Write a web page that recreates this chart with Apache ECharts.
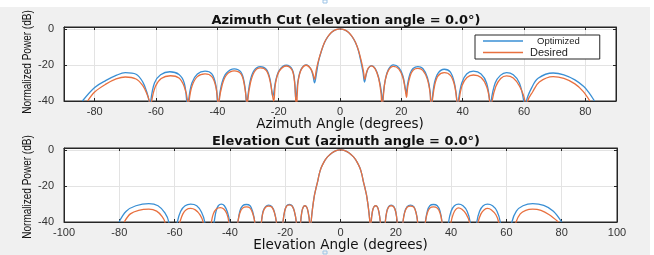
<!DOCTYPE html>
<html>
<head>
<meta charset="utf-8">
<script src="https://cdn.jsdelivr.net/npm/echarts@6/dist/echarts.min.js"></script>
<style>
  html, body { margin: 0; padding: 0; background: #fff; }
  #main {
    width: 654px; height: 255px;
    background: linear-gradient(to bottom, #fff 7px, transparent 7px),
                linear-gradient(to right, #f0f0f0 650px, #fff 650px);
  }
</style>
</head>
<body>
<div id="main"></div>
<script>
// azimuth cut, [angle (deg), power (dB)]
var azOptimized = [
    [-84,-40],[-80,-32.5],[-76.3,-28.6],[-73,-25.8],[-70,-24.3],[-66.5,-25.2],[-64.3,-29.5],[-63,-35],[-62.3,-40],[-62,-50],
    [-61.7,-40],[-60.5,-30],[-58.5,-25.5],[-55.5,-23.8],[-52.5,-25.3],[-50.8,-30],[-50,-40],[-49.8,-50],
    [-49.4,-40],[-48.3,-30],[-46.5,-25],[-44,-23.5],[-41.8,-25],[-40.5,-31],[-40,-40],[-39.8,-50],
    [-39.5,-40],[-38.5,-30],[-37,-24.5],[-34.5,-22.2],[-32.3,-24],[-31.2,-30],[-30.6,-40],[-30.5,-50],
    [-30.2,-40],[-29.3,-29],[-28,-23],[-26,-20.9],[-24,-22.5],[-22.8,-28],[-21.9,-37.5],
    [-21,-29],[-19.8,-23],[-17.5,-20.2],[-15.6,-22.5],[-14.8,-29],[-14.4,-39.5],
    [-13.7,-29],[-12.7,-22.5],[-11,-20],[-9.6,-22],[-8.8,-26],[-8.3,-30],
    [-7.6,-24],[-7,-18],[-6,-12],[-5,-7.5],[-4,-4.5],[-3,-2.4],[-2,-1],[-1,-0.25],[0,0],
    [1,-0.25],[2,-1],[3,-2.4],[4,-4.5],[5,-7.5],[6,-12],[6.8,-18],[7.5,-24],[8,-29.5],
    [8.6,-25],[9.2,-22],[10.2,-20.4],[11.5,-22],[12.6,-27],[13.5,-35],[13.8,-42],
    [14.2,-35],[14.8,-28],[15.8,-22.5],[17.4,-20],[19.2,-21.5],[20.5,-26],[21.3,-33],[21.6,-36],
    [22,-31],[22.8,-25],[23.8,-22],[25.4,-20.9],[27,-22],[28.5,-27],[29.4,-35],[29.7,-45],
    [30,-40],[30.8,-30],[32,-24.5],[34,-22.4],[36,-24],[37.3,-30],[38.1,-40],[38.3,-50],
    [38.6,-40],[39.7,-30],[41.3,-25],[43.5,-23.5],[46,-25],[47.8,-30],[48.8,-40],[49,-50],
    [49.3,-40],[50.6,-30],[52.3,-25.8],[54.3,-24.3],[56.5,-25.5],[58.5,-30],[59.9,-40],[60.3,-50],
    [60.8,-40],[62.4,-33],[64.6,-27.4],[69.5,-24.5],[73,-25.5],[76.6,-28.3],[79.5,-32],[81,-35],[83,-40]
];
var azDesired = [
    [-82.3,-40],[-80,-35],[-76.5,-30.8],[-73,-27.8],[-70,-26.7],[-66.5,-27.8],[-64.3,-31.5],[-63,-36],[-62.2,-40],[-62,-50],
    [-61.4,-40],[-60.2,-32],[-58.3,-27.5],[-55.3,-26],[-52.5,-27.3],[-50.8,-32],[-49.7,-40],[-49.5,-50],
    [-49.2,-40],[-48.2,-31.5],[-46.5,-26.5],[-44,-25],[-41.8,-26.5],[-40.5,-32],[-39.9,-40],[-39.7,-50],
    [-39.4,-40],[-38.4,-31],[-37,-25.5],[-34.5,-23.3],[-32.3,-25],[-31.2,-31],[-30.5,-40],[-30.3,-50],
    [-30.1,-40],[-29.2,-30],[-27.9,-23.8],[-26,-21.7],[-24,-23.2],[-22.8,-29],[-21.8,-39],[-21.6,-40],
    [-21,-30],[-19.8,-23.5],[-17.5,-20.6],[-15.6,-23],[-14.8,-30],[-14.4,-40],[-14.2,-45],
    [-13.9,-35],[-13.6,-28.5],[-12.6,-22.5],[-11,-20.2],[-9.6,-22],[-8.8,-25],[-8.3,-28],
    [-7.7,-22.5],[-7,-17.5],[-6,-11.8],[-5,-7.3],[-4,-4.4],[-3,-2.3],[-2,-1],[-1,-0.25],[0,0],
    [1,-0.25],[2,-1],[3,-2.3],[4,-4.4],[5,-7.3],[6,-11.8],[6.9,-17.5],[7.6,-23],[8.1,-28],
    [8.6,-24.5],[9.2,-21.8],[10.2,-20.5],[11.5,-22.3],[12.6,-27.5],[13.4,-36],[13.7,-45],
    [14.1,-38],[14.7,-29],[15.8,-23],[17.4,-20.8],[19.2,-22.3],[20.5,-27],[21.3,-34],[21.7,-38],
    [22.1,-32],[22.9,-26],[23.9,-22.8],[25.4,-21.9],[27,-23],[28.5,-28],[29.4,-36],[29.7,-45],
    [30.1,-40],[30.9,-31],[32,-26],[34,-24.3],[36,-25.8],[37.3,-31],[38.1,-40],[38.3,-50],
    [38.8,-40],[39.8,-31.5],[41.4,-27],[43.5,-25.6],[46,-27],[47.8,-32],[48.8,-40],[49.1,-50],
    [49.6,-40],[50.8,-32],[52.4,-27.5],[54.3,-26.1],[56.5,-27.3],[58.6,-32],[60.3,-40],[60.6,-50],
    [61.2,-40],[62.8,-35],[65,-29.5],[69.5,-26.5],[73,-27.5],[76.6,-30.5],[79.2,-34.5],[81.5,-40]
];

// elevation cut
var elOptimized = [
    [-80.1,-40],[-77.5,-34],[-74,-31],[-69.3,-29.8],[-66,-31],[-63.5,-35],[-62.1,-40],[-61,-60],
    [-59,-40],[-57.8,-34],[-56.2,-31],[-54.2,-30.1],[-52,-31],[-50.3,-34.5],[-49.1,-40],[-48,-60],
    [-45.7,-40],[-45,-34],[-44.2,-31],[-43.1,-30.1],[-42,-31],[-40.9,-34.5],[-40.1,-40],[-38.6,-60],
    [-37.1,-40],[-36.4,-34],[-35.4,-31],[-34,-30.3],[-32.7,-31],[-31.8,-34],[-31,-40],[-29.8,-60],
    [-28.6,-40],[-28,-34],[-27.1,-31.5],[-26,-30.7],[-24.8,-31.5],[-23.9,-34.5],[-23.2,-40],[-22,-60],
    [-20.8,-40],[-20.2,-34],[-19.5,-31],[-18.5,-30.3],[-17.5,-31],[-16.7,-34],[-16,-40],[-15.2,-60],
    [-14.4,-40],[-14,-34.5],[-13.5,-31.8],[-12.9,-31],[-12.2,-31.8],[-11.7,-34.5],[-11.2,-40],[-10.9,-60],
    [-10.6,-40],[-10.3,-35],[-9.9,-30],[-9.4,-25],[-8.9,-21.5],[-8.3,-17.8],[-7.7,-13.5],[-7,-10],[-6,-6.8],[-5,-4.5],[-4,-2.9],[-3,-1.6],[-2,-0.7],[-1,-0.2],[0,0],
    [1,-0.2],[2,-0.7],[3,-1.6],[4,-2.9],[5,-4.5],[6,-6.8],[7,-10],[7.7,-13.5],[8.3,-17.8],[8.9,-21.5],[9.4,-25],[9.9,-30],[10.3,-35],[10.6,-40],[10.8,-60],
    [11.1,-40],[11.5,-34.5],[12,-31.8],[12.7,-31],[13.4,-31.8],[13.9,-34.5],[14.4,-40],[15.2,-60],
    [16.2,-40],[16.7,-34.5],[17.4,-31.5],[18.3,-30.7],[19.3,-31.5],[20,-34.5],[20.5,-40],[21.5,-60],
    [22.6,-40],[23.2,-34.5],[24.1,-31.5],[25.3,-30.7],[26.5,-31.5],[27.3,-34.5],[27.9,-40],[29,-60],
    [30.7,-40],[31.4,-34],[32.3,-31],[33.6,-30.3],[35,-31],[36,-34],[36.7,-40],[37.8,-60],
    [39.1,-40],[40,-34],[41.2,-31],[42.7,-30.1],[44.3,-31],[45.8,-34],[46.9,-40],[48,-60],
    [49.3,-40],[50.3,-34],[51.6,-31],[53.2,-30.1],[55,-31],[56.6,-34],[57.8,-40],[59.5,-60],
    [62,-40],[63.6,-34],[66,-31],[69.5,-29.8],[73.5,-30.8],[77,-34],[80,-40]
];
var elDesired = [
    [-78.2,-40],[-76,-35.5],[-73,-33.5],[-69.3,-32.9],[-66.5,-34],[-64.5,-37],[-63.5,-40],[-62.5,-60],
    [-58.1,-40],[-57,-35.5],[-55.8,-33.2],[-54.2,-32.5],[-52.5,-33.3],[-50.8,-36],[-49.7,-40],[-48.5,-60],
    [-46.7,-40],[-46,-35.5],[-44.9,-32.8],[-43.5,-32],[-42.2,-32.8],[-41.1,-35.5],[-40.4,-40],[-39,-60],
    [-37.1,-40],[-36.4,-35],[-35.4,-32.3],[-34,-31.6],[-32.7,-32.3],[-31.8,-35],[-31,-40],[-29.8,-60],
    [-28.6,-40],[-28,-34.5],[-27.1,-31.8],[-26,-31.2],[-24.8,-31.8],[-23.9,-34.8],[-23.2,-40],[-22,-60],
    [-20.8,-40],[-20.2,-34],[-19.5,-31.2],[-18.5,-30.5],[-17.5,-31.2],[-16.7,-34],[-16,-40],[-15.2,-60],
    [-14.4,-40],[-14,-34.5],[-13.5,-31.8],[-12.9,-31],[-12.2,-31.8],[-11.7,-34.5],[-11.2,-40],[-10.9,-60],
    [-10.6,-40],[-10.3,-35],[-9.9,-30],[-9.4,-25],[-8.9,-21.5],[-8.3,-17.8],[-7.7,-13.5],[-7,-10],[-6,-6.8],[-5,-4.5],[-4,-2.9],[-3,-1.6],[-2,-0.7],[-1,-0.2],[0,0],
    [1,-0.2],[2,-0.7],[3,-1.6],[4,-2.9],[5,-4.5],[6,-6.8],[7,-10],[7.7,-13.5],[8.3,-17.8],[8.9,-21.5],[9.4,-25],[9.9,-30],[10.3,-35],[10.6,-40],[10.8,-60],
    [11.1,-40],[11.5,-34.5],[12,-31.8],[12.7,-31],[13.4,-31.8],[13.9,-34.5],[14.4,-40],[15.2,-60],
    [16.2,-40],[16.7,-34.5],[17.4,-31.7],[18.3,-31],[19.3,-31.7],[20,-34.5],[20.5,-40],[21.5,-60],
    [22.6,-40],[23.2,-34.8],[24.1,-31.8],[25.3,-31.2],[26.5,-31.8],[27.3,-34.8],[27.9,-40],[29,-60],
    [30.7,-40],[31.4,-35],[32.3,-32.3],[33.6,-31.6],[35,-32.3],[36,-35],[36.7,-40],[37.8,-60],
    [40,-40],[40.8,-35.5],[41.7,-33],[42.7,-32.2],[43.9,-33],[45.4,-35.5],[46.6,-40],[48,-60],
    [49.8,-40],[50.8,-35.5],[52,-33.2],[53.2,-32.5],[54.6,-33.3],[56.2,-36],[57.2,-40],[59.5,-60],
    [63.5,-40],[65,-35.5],[67,-33.5],[69.5,-32.9],[72.5,-33.6],[75.5,-36],[78.8,-40]
];

var blue = '#3a8fd4';
var orange = '#e8703f';
var axisColor = '#262626';

var myChart = echarts.init(document.getElementById('main'));

function hideOdd(v) {
    return (v % 20 === 0) ? String(v) : '';
}

function bottomAxis(grid, min, max, split, name, gap) {
    return {
        type: 'value', gridIndex: grid, min: min, max: max, splitNumber: split,
        position: 'bottom',
        name: name, nameLocation: 'middle', nameGap: gap,
        nameTextStyle: { color: '#111', fontSize: 13.5, fontFamily: 'DejaVu Sans' },
        axisLine: { show: true, onZero: false, lineStyle: { color: axisColor } },
        axisTick: { inside: true, length: 3, lineStyle: { color: axisColor } },
        axisLabel: { color: '#333', fontSize: 11, margin: 5, fontFamily: 'Liberation Sans', formatter: hideOdd },
        splitLine: { show: true, lineStyle: { color: '#e3e3e3' } }
    };
}
function topAxis(grid, min, max, split) {
    return {
        type: 'value', gridIndex: grid, min: min, max: max, splitNumber: split,
        position: 'top',
        axisLine: { show: true, onZero: false, lineStyle: { color: axisColor } },
        axisTick: { inside: true, length: 3, lineStyle: { color: axisColor } },
        axisLabel: { show: false },
        splitLine: { show: false }
    };
}
function leftAxis(grid) {
    return {
        type: 'value', gridIndex: grid, min: -40, max: 1, interval: 20,
        position: 'left',
        axisLine: { show: true, onZero: false, lineStyle: { color: axisColor } },
        axisTick: { inside: true, length: 3, lineStyle: { color: axisColor } },
        axisLabel: { color: '#333', fontSize: 11, margin: 10, fontFamily: 'Liberation Sans', formatter: hideOdd },
        splitLine: { show: true, lineStyle: { color: '#e3e3e3' } }
    };
}
function rightAxis(grid) {
    return {
        type: 'value', gridIndex: grid, min: -40, max: 1, interval: 20,
        position: 'right',
        axisLine: { show: true, onZero: false, lineStyle: { color: axisColor } },
        axisTick: { inside: true, length: 3, lineStyle: { color: axisColor } },
        axisLabel: { show: false },
        splitLine: { show: false }
    };
}
function curve(name, data, color, xi, yi) {
    return {
        name: name, type: 'line', xAxisIndex: xi, yAxisIndex: yi,
        data: data, symbol: 'none', smooth: 0.35, clip: true,
        lineStyle: { color: color, width: 1.3 },
        itemStyle: { color: color },
        animation: false
    };
}
// narrow rotated y-axis caption
function yCaption(cy) {
    return {
        type: 'text', x: 27, y: cy, rotation: Math.PI / 2, scaleX: 0.77,
        style: {
            text: 'Normalized Power (dB)', fill: '#111',
            font: '13px "Liberation Sans"', align: 'center', verticalAlign: 'middle'
        }
    };
}

var titleStyle = { fontSize: 13, fontWeight: 'bold', color: '#111', fontFamily: 'DejaVu Sans' };

var option = {
    animation: false,
    title: [
        { text: 'Azimuth Cut (elevation angle = 0.0°)', left: 341, top: 9, textAlign: 'center', textStyle: titleStyle },
        { text: 'Elevation Cut (azimuth angle = 0.0°)', left: 341, top: 130, textAlign: 'center', textStyle: titleStyle }
    ],
    legend: {
        data: [
            { name: 'Optimized', icon: 'rect' },
            { name: 'Desired', icon: 'rect' }
        ],
        orient: 'vertical', left: 475, top: 35,
        itemWidth: 40, itemHeight: 1.5, itemGap: 1,
        padding: [1, 20, 1, 8],
        backgroundColor: '#fff', borderColor: axisColor, borderWidth: 1,
        formatter: function (name) {
            return name === 'Optimized' ? '{o|' + name + '}' : '{d|' + name + '}';
        },
        textStyle: {
            color: '#222', fontFamily: 'Liberation Sans',
            rich: {
                o: { fontSize: 9.5, lineHeight: 11, padding: [0, 0, 0, 9] },
                d: { fontSize: 11, lineHeight: 11, padding: [0, 0, 0, 2] }
            }
        }
    },
    grid: [
        { left: 64, top: 27, width: 552, height: 74, show: true, backgroundColor: '#fff', borderColor: axisColor, borderWidth: 1 },
        { left: 64, top: 148, width: 553, height: 74, show: true, backgroundColor: '#fff', borderColor: axisColor, borderWidth: 1 }
    ],
    xAxis: [
        bottomAxis(0, -90, 90, 9, 'Azimuth Angle (degrees)', 15),
        topAxis(0, -90, 90, 9),
        bottomAxis(1, -100, 100, 10, 'Elevation Angle (degrees)', 15),
        topAxis(1, -100, 100, 10)
    ],
    yAxis: [leftAxis(0), rightAxis(0), leftAxis(1), rightAxis(1)],
    graphic: [
        yCaption(62),
        yCaption(187),
        { type: 'rect', shape: { x: 323, y: 0, width: 4, height: 3 }, style: { fill: 'none', stroke: '#9cc3e6', lineWidth: 1 } },
        { type: 'rect', shape: { x: 323, y: 251, width: 4, height: 3 }, style: { fill: 'none', stroke: '#9cc3e6', lineWidth: 1 } }
    ],
    series: [
        curve('Optimized', azOptimized, blue, 0, 0),
        curve('Desired', azDesired, orange, 0, 0),
        curve('Optimized', elOptimized, blue, 2, 2),
        curve('Desired', elDesired, orange, 2, 2)
    ]
};
myChart.setOption(option);
</script>
</body>
</html>
